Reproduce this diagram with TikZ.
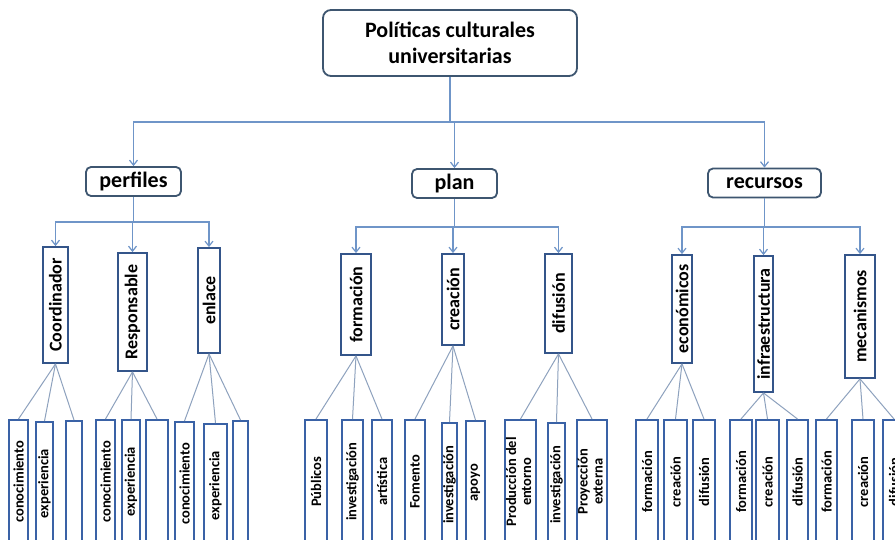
\documentclass[tikz,border=0pt]{standalone}
\usepackage{fontspec}
\setmainfont{Carlito}
\usetikzlibrary{arrows.meta}
\definecolor{boxdark}{HTML}{3E5670}
\definecolor{boxmid}{HTML}{34558A}
\definecolor{boxblue}{HTML}{3A62A6}
\definecolor{arrowblue}{HTML}{6F95C8}
\definecolor{fangray}{HTML}{8EA2BE}
\newcommand{\rtxt}[1]{\rotatebox{90}{#1}}
\newcommand{\rtwo}[2]{\rotatebox{90}{\begin{tabular}{@{}c@{}}#1\\#2\end{tabular}}}
\begin{document}
\begin{tikzpicture}[x=1pt,y=-1pt,
  rootbox/.style={draw=boxdark, line width=1.8pt, rounded corners=8pt, align=center,
    font=\bfseries\fontsize{22}{26}\selectfont, minimum width=254pt, minimum height=66pt, inner sep=0pt},
  lvone/.style={draw=boxdark, line width=1.8pt, rounded corners=5pt,
    font=\bfseries\fontsize{22}{25}\selectfont, minimum height=29pt, inner sep=0pt},
  lvtwo/.style={draw=boxmid, line width=1.8pt, inner sep=0pt,
    font=\bfseries\fontsize{18}{20}\selectfont},
  leaf/.style={draw=boxblue, line width=1.6pt, inner sep=0pt, anchor=north,
    minimum height=124pt, font=\bfseries\fontsize{14.5}{15}\selectfont},
  arr/.style={draw=arrowblue, line width=1.2pt, -{Straight Barb[length=5pt,width=8pt]}},
  plainline/.style={draw=arrowblue, line width=1.2pt},
  fan/.style={draw=fangray, line width=1pt}]
\clip (0,0) rectangle (895,540);
\fill[white] (0,0) rectangle (895,540);

% root and level 1
\node[rootbox] (root) at (450,43) {Políticas culturales\\universitarias};
\node[lvone, minimum width=95pt] (perf) at (133.5,181.5) {perfiles};
\node[lvone, minimum width=85pt] (plan) at (454.5,183.5) {plan};
\node[lvone, minimum width=113pt] (recu) at (764.5,183) {recursos};

% level 2
\node[lvtwo, minimum width=25pt, minimum height=116pt] (coord) at (55.5,305) {\rtxt{Coordinador}};
\node[lvtwo, minimum width=29pt, minimum height=118pt] (resp) at (132.5,312) {\rtxt{Responsable}};
\node[lvtwo, minimum width=22pt, minimum height=105pt] (enla) at (209,300.5) {\rtxt{enlace}};
\node[lvtwo, minimum width=30pt, minimum height=101pt] (form) at (356,304.5) {\rtxt{formación}};
\node[lvtwo, minimum width=22pt, minimum height=91pt] (crea) at (453,299.5) {\rtxt{creación}};
\node[lvtwo, minimum width=27pt, minimum height=99pt] (difu) at (558.5,303.5) {\rtxt{difusión}};
\node[lvtwo, minimum width=20pt, minimum height=108pt] (econ) at (682,309) {\rtxt{económicos}};
\node[lvtwo, minimum width=19pt, minimum height=136pt] (infr) at (763.5,324) {\rtxt{infraestructura}};
\node[lvtwo, minimum width=30pt, minimum height=123pt] (meca) at (860,316.5) {\rtxt{mecanismos}};

% leaves
\node[leaf, minimum width=19pt] (c1) at (18.5,419) {\rtxt{conocimiento}};
\node[leaf, minimum width=17pt] (c2) at (44.5,421) {\rtxt{experiencia}};
\node[leaf, minimum width=16pt] (c3) at (74,420) {};
\node[leaf, minimum width=19pt] (c4) at (105.5,419) {\rtxt{conocimiento}};
\node[leaf, minimum width=18pt] (c5) at (131,419) {\rtxt{experiencia}};
\node[leaf, minimum width=22pt] (c6) at (157,419) {};
\node[leaf, minimum width=19pt] (c7) at (184.5,421) {\rtxt{conocimiento}};
\node[leaf, minimum width=23pt] (c8) at (215.5,423) {\rtxt{experiencia}};
\node[leaf, minimum width=15pt] (c9) at (240.5,420) {};

\node[leaf, minimum width=22pt] (p1) at (316,419) {\rtxt{Públicos}};
\node[leaf, minimum width=21pt] (p2) at (352.5,419) {\rtxt{investigación}};
\node[leaf, minimum width=20pt] (p3) at (382,419) {\rtxt{artística}};
\node[leaf, minimum width=20pt] (p4) at (415,419) {\rtxt{Fomento}};
\node[leaf, minimum width=15pt] (p5) at (449.5,422) {\rtxt{investigación}};
\node[leaf, minimum width=19pt] (p6) at (475.5,420) {\rtxt{apoyo}};
\node[leaf, minimum width=31pt] (p7) at (520.5,419) {\rtwo{Producción del}{entorno}};
\node[leaf, minimum width=17pt] (p8) at (556.5,422) {\rtxt{investigación}};
\node[leaf, minimum width=30pt] (p9) at (592,419) {\rtwo{Proyección}{externa}};

\node[leaf, minimum width=22pt] (r1) at (647,419) {\rtxt{formación}};
\node[leaf, minimum width=23pt] (r2) at (675.5,419) {\rtxt{creación}};
\node[leaf, minimum width=22pt] (r3) at (704,419) {\rtxt{difusión}};
\node[leaf, minimum width=22pt] (r4) at (741,419) {\rtxt{formación}};
\node[leaf, minimum width=23pt] (r5) at (767.5,419) {\rtxt{creación}};
\node[leaf, minimum width=21pt] (r6) at (797.5,419) {\rtxt{difusión}};
\node[leaf, minimum width=21pt] (r7) at (826.5,419) {\rtxt{formación}};
\node[leaf, minimum width=22pt] (r8) at (863,419) {\rtxt{creación}};
\node[leaf, minimum width=22pt] (r9) at (894,419) {\rtxt{difusión}};

% root connectors
\coordinate (h0) at (450,122);
\draw[plainline] (root.south) -- (h0);
\draw[arr] (h0) -| (perf.north);
\draw[arr] (h0) -| (plan.north);
\draw[arr] (h0) -| (recu.north);

% level 1 connectors
\coordinate (h1) at (133.5,222);
\draw[plainline] (perf.south) -- (h1);
\draw[arr] (h1) -| (coord.north);
\draw[arr] (h1) -| (resp.north);
\draw[arr] (h1) -| (enla.north);
\coordinate (h2) at (454.5,227);
\draw[plainline] (plan.south) -- (h2);
\draw[arr] (h2) -| (form.north);
\draw[arr] (h2) -| (crea.north);
\draw[arr] (h2) -| (difu.north);
\coordinate (h3) at (764.5,227);
\draw[plainline] (recu.south) -- (h3);
\draw[arr] (h3) -| (econ.north);
\draw[arr] (h3) -| (infr.north);
\draw[arr] (h3) -| (meca.north);

% fans
\foreach \p/\a/\b/\c in {coord/c1/c2/c3, resp/c4/c5/c6, enla/c7/c8/c9,
  form/p1/p2/p3, crea/p4/p5/p6, difu/p7/p8/p9,
  econ/r1/r2/r3, infr/r4/r5/r6, meca/r7/r8/r9}{
  \draw[fan] (\p.south) -- (\a.north);
  \draw[fan] (\p.south) -- (\b.north);
  \draw[fan] (\p.south) -- (\c.north);
}
\end{tikzpicture}
\end{document}
